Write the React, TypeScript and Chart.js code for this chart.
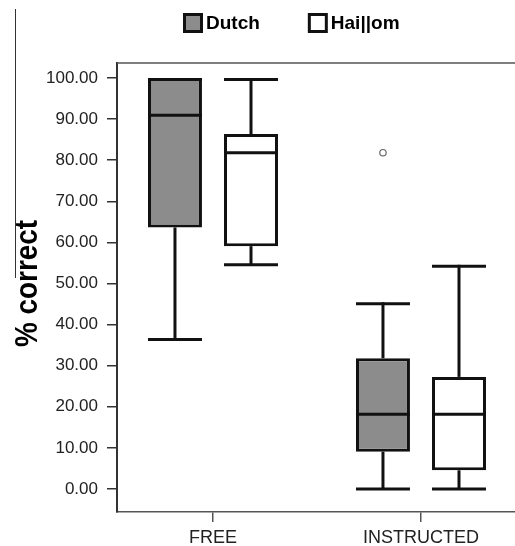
import React, { useEffect, useRef } from "react";
import { Chart, registerables } from "chart.js";

Chart.register(...registerables);

// ---- data ----
const categories = ["FREE", "INSTRUCTED"];
const seriesNames = ["Dutch", "Hai||om"];
const seriesFill = ["#8c8c8c", "#ffffff"];

const dutchMin = [36.36, 0];
const dutchQ1 = [63.64, 9.09];
const dutchMedian = [90.91, 18.18];
const dutchQ3 = [100, 31.82];
const dutchMax = [100, 45.45];
const dutchOutliers: number[][] = [[], [81.82]];

const hailomMin = [54.55, 0];
const hailomQ1 = [59.09, 4.55];
const hailomMedian = [81.82, 18.18];
const hailomQ3 = [86.36, 27.27];
const hailomMax = [100, 54.55];
const hailomOutliers: number[][] = [[], []];

const yTicks = [0, 10, 20, 30, 40, 50, 60, 70, 80, 90, 100];
const yTitle = "% correct";

const stats = [
  { min: dutchMin, q1: dutchQ1, med: dutchMedian, q3: dutchQ3, max: dutchMax, out: dutchOutliers },
  { min: hailomMin, q1: hailomQ1, med: hailomMedian, q3: hailomQ3, max: hailomMax, out: hailomOutliers },
];

const FONT = "'Liberation Sans', Arial, sans-serif";

const boxPlugin = {
  id: "boxExtras",
  afterDatasetsDraw(chart: any) {
    const ctx = chart.ctx;
    const y = chart.scales.y;
    const { left, right, top } = chart.chartArea;
    ctx.save();
    // top frame
    ctx.strokeStyle = "#555";
    ctx.lineWidth = 1.5;
    ctx.beginPath();
    ctx.moveTo(left, top);
    ctx.lineTo(right, top);
    ctx.stroke();

    const line = (x1: number, y1: number, x2: number, y2: number) => {
      ctx.beginPath();
      ctx.moveTo(x1, y1);
      ctx.lineTo(x2, y2);
      ctx.stroke();
    };
    stats.forEach((s, di) => {
      const meta = chart.getDatasetMeta(di);
      meta.data.forEach((bar: any, j: number) => {
        const { x, width } = bar.getProps(["x", "width"], true);
        const half = width / 2;
        const pMin = y.getPixelForValue(s.min[j]);
        const pQ1 = y.getPixelForValue(s.q1[j]);
        const pMed = y.getPixelForValue(s.med[j]);
        const pQ3 = y.getPixelForValue(s.q3[j]);
        const pMax = y.getPixelForValue(s.max[j]);
        ctx.strokeStyle = "#111";
        ctx.lineWidth = 3;
        ctx.lineCap = "butt";
        if (pMax < pQ3) line(x, pQ3, x, pMax);
        line(x - half, pMax + 1.5, x + half, pMax + 1.5);
        if (pMin > pQ1) line(x, pQ1, x, pMin);
        line(x - half, pMin, x + half, pMin);
        line(x - half, pMed, x + half, pMed);
        s.out[j].forEach((v) => {
          ctx.strokeStyle = "#666";
          ctx.lineWidth = 1.2;
          ctx.beginPath();
          ctx.arc(x, y.getPixelForValue(v), 3.2, 0, Math.PI * 2);
          ctx.stroke();
        });
      });
    });
    ctx.restore();
  },
  afterDraw(chart: any) {
    const ctx = chart.ctx;
    const { top, bottom } = chart.chartArea;
    ctx.save();
    // decorative stray rule at left
    ctx.strokeStyle = "#333";
    ctx.lineWidth = 1;
    ctx.beginPath();
    ctx.moveTo(15.5, 9);
    ctx.lineTo(15.5, 278);
    ctx.stroke();

    // y axis title (condensed bold)
    ctx.save();
    ctx.translate(37, (top + bottom) / 2 - 4);
    ctx.rotate(-Math.PI / 2);
    ctx.scale(0.9, 1);
    ctx.font = `bold 31px ${FONT}`;
    ctx.fillStyle = "#000";
    ctx.textAlign = "center";
    ctx.textBaseline = "alphabetic";
    ctx.fillText(yTitle, 0, 0);
    ctx.restore();

    // legend
    let lx = 183;
    const ly = 13;
    ctx.font = `bold 19px ${FONT}`;
    ctx.textBaseline = "middle";
    ctx.textAlign = "left";
    seriesNames.forEach((name, i) => {
      ctx.fillStyle = seriesFill[i];
      ctx.fillRect(lx, ly, 20, 20);
      ctx.strokeStyle = "#111";
      ctx.lineWidth = 3;
      ctx.strokeRect(lx + 1.5, ly + 1.5, 17, 17);
      ctx.fillStyle = "#000";
      ctx.fillText(name, lx + 23, ly + 11);
      lx += 23 + ctx.measureText(name).width + 48;
    });
    ctx.restore();
  },
};

export default function App() {
  const ref = useRef<HTMLCanvasElement | null>(null);
  useEffect(() => {
    if (!ref.current) return;
    const chart = new Chart(ref.current, {
      type: "bar",
      data: {
        datasets: stats.map((s, di) => ({
          label: seriesNames[di],
          data: categories.map((_, j) => ({ x: j, y: [s.q1[j], s.q3[j]] })),
          backgroundColor: seriesFill[di],
          borderColor: "#111",
          borderWidth: 3,
          borderSkipped: false,
          categoryPercentage: 0.731,
          barPercentage: 0.71,
        })) as any,
      },
      options: {
        animation: false,
        responsive: false,
        layout: { padding: { top: 63, left: 0, right: 0, bottom: 0 } },
        plugins: { legend: { display: false }, tooltip: { enabled: false } },
        scales: {
          x: {
            type: "linear",
            min: -0.4615,
            max: 1.452,
            offset: false,
            afterBuildTicks: (s: any) => {
              s.ticks = categories.map((_, i) => ({ value: i }));
            },
            afterFit: (s: any) => {
              s.height = 34;
            },
            ticks: {
              callback: (v: any) => categories[v as number] ?? "",
              font: { family: FONT, size: 18 },
              color: "#222",
              padding: 5,
              maxRotation: 0,
              autoSkip: false,
            },
            grid: { display: true, drawOnChartArea: false, drawTicks: true, tickLength: 10, color: "#555", lineWidth: 1.5, offset: false },
            border: { display: true, color: "#555", width: 1.5 },
          },
          y: {
            type: "linear",
            min: -5.6,
            max: 103.65,
            afterBuildTicks: (s: any) => {
              s.ticks = yTicks.map((v) => ({ value: v }));
            },
            afterFit: (s: any) => {
              s.width = 117;
            },
            ticks: {
              callback: (v: any) => Number(v).toFixed(2),
              font: { family: FONT, size: 17 },
              color: "#222",
              padding: 9,
              autoSkip: false,
            },
            title: { display: false },
            grid: { display: true, drawOnChartArea: false, drawTicks: true, tickLength: 10, color: "#333", lineWidth: 1.5 },
            border: { display: true, color: "#333", width: 2 },
          },
        },
      } as any,
      plugins: [boxPlugin],
    });
    return () => chart.destroy();
  }, []);
  return (
    <div style={{ position: "absolute", left: 0, top: 0, width: 515, height: 546, background: "#fff" }}>
      <canvas ref={ref} width={515} height={546} style={{ display: "block" }} />
    </div>
  );
}
